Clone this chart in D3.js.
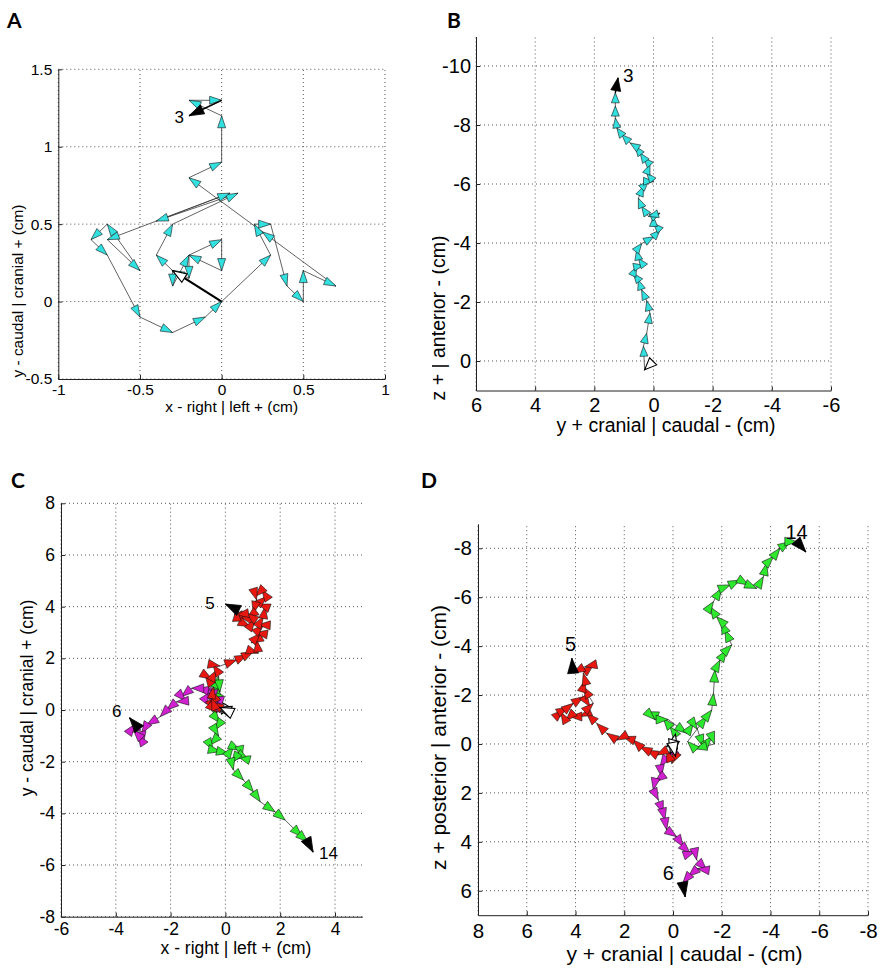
<!DOCTYPE html>
<html><head><meta charset="utf-8">
<script src="https://cdn.jsdelivr.net/npm/d3@7"></script>
<style>body{margin:0;background:#fff}svg{display:block}</style>
</head><body>
<svg id="c" width="886" height="977"></svg>
<script>
// ---------- DATA ----------
// Panel A: x (right|left) vs y (caudal|cranial), cm
const aX = [0,-0.3,-0.3,-0.2,0,0,-0.2,-0.2,-0.3,-0.4,-0.3,0.1,-0.4,0.05,-0.7,-0.5,-0.7,-0.8,-0.7,-0.5,-0.3,-0.1,0,0.3,0.2,0.3,0.4,0.5,0.5,0.7,0.25,-0.2,0,0,-0.2,0,-0.2];
const aY = [0,0.2,0.1,0.3,0.4,0.2,0.3,0.15,0.2,0.3,0.5,0.7,0.52,0.7,0.4,0.2,0.5,0.4,0.3,-0.1,-0.2,-0.1,0,0.3,0.5,0.5,0.1,0,0.2,0.1,0.45,0.8,0.9,1.2,1.3,1.3,1.2];
const aXTicks = [-1,-0.5,0,0.5,1];
const aYTicks = [-0.5,0,0.5,1,1.5];
const aEndLabel = {x:-0.26, y:1.19, text:"3"};

// Panel B: y (cranial|caudal) vs z (anterior), cm
const bX = [0,0.3,0.34,0.23,0.12,0.23,0.4,0.51,0.68,0.57,0.34,0.51,0.57,0.4,0.0,-0.22,0,0,-0.22,0.17,0.4,0.51,0.34,0.17,0,0.23,0.12,0.34,0.45,0.62,0.79,1.07,1.24,1.29,1.29,1.29,1.2];
const bY = [0,0.3,-0.5,-0.94,-1.62,-2.04,-2.41,-2.75,-2.97,-3.2,-3.25,-3.48,-3.76,-3.98,-4.21,-4.44,-4.67,-4.9,-5.01,-4.9,-5.24,-5.52,-5.92,-6.09,-6.09,-6.38,-6.66,-6.89,-7.05,-7.28,-7.39,-7.67,-7.9,-8.24,-8.64,-9.09,-9.6];
const bXTicks = [6,4,2,0,-2,-4,-6];
const bYTicks = [-10,-8,-6,-4,-2,0];
const bEndLabel = {x:0.85, y:-9.69, text:"3"};

// Panel C: x vs y, three capsules (5 red, 6 magenta, 14 green)
const cRedX = [0,-0.2,-0.5,-0.3,-0.6,-0.3,-0.5,-0.44,-0.74,-0.5,-0.32,-0.45,-0.2,0.41,0.78,1.02,1.2,1.14,0.95,1.27,1.1,1.39,1.2,1.39,1.45,1.2,1.5,1.33,1.1,1.14,1.02,0.78,0.54,0.66,0.9,1.08,0.78,0.41,0.4,0.0];
const cRedY = [0,0.1,0.3,0.5,0.2,-0.1,0.45,0.9,1.35,1.2,1.55,1.75,1.7,1.94,2.13,2.26,2.2,2.71,2.6,2.97,3.0,3.29,3.3,3.61,4.0,4.1,4.39,4.65,4.4,4.26,3.74,3.55,3.61,3.35,3.23,3.5,3.74,3.68,3.9,4.1];
const cMagX = [0,-0.3,-0.2,-0.5,-0.44,-0.68,-0.55,-0.74,-1.05,-1.23,-1.6,-1.45,-1.78,-2.14,-2.38,-2.87,-3.05,-2.99,-3.2,-3.36,-3.54,-3.3,-3.5];
const cMagY = [0,0.1,0.4,0.5,0.39,0.52,0.7,0.77,0.84,0.84,0.52,0.35,0.32,0,-0.26,-0.58,-0.9,-1.29,-0.95,-0.77,-0.9,-0.55,-0.3];
const cGrnX = [0,-0.3,-0.35,-0.25,-0.2,-0.4,-0.38,-0.2,-0.38,-0.25,-0.56,-0.45,-0.19,0.11,0.29,0.54,0.6,0.47,0.3,0.23,0.29,0.66,1.02,1.27,1.81,2.18,2.79,3.0,3.2];
const cGrnY = [0,0.4,1.0,1.3,0.7,0.2,-0.26,-0.5,-0.77,-1.0,-1.35,-1.55,-1.61,-1.68,-1.42,-1.55,-1.85,-1.81,-1.95,-2.06,-2.32,-2.71,-3.16,-3.55,-3.94,-4.26,-4.9,-5.1,-5.5];
const cXTicks = [-6,-4,-2,0,2,4];
const cYTicks = [-8,-6,-4,-2,0,2,4,6,8];
const cEndLabels = [{x:-0.56,y:4.13,text:"5"},{x:-3.97,y:-0.07,text:"6"},{x:3.76,y:-5.55,text:"14"}];

// Panel D: y (cranial|caudal) vs z (posterior|anterior)
const dRedX = [0,-0.1,0.05,0.26,0.67,1.08,1.35,1.63,2.04,2.31,2.72,3.13,3.54,3.82,4.23,4.4,4.6,4.5,4.3,4.09,3.68,3.41,3.27,3.68,3.6,3.68,3.27,3.61,4.1,4.15];
const dRedY = [0,0.5,0.8,0.25,0.45,0.25,0.11,-0.16,-0.3,-0.16,-0.44,-0.84,-1.25,-1.12,-1.12,-0.95,-1.3,-1.39,-1.5,-1.66,-1.93,-1.53,-1.66,-2.34,-2.6,-2.89,-3.23,-3.16,-2.9,-3.5];
const dMagX = [0,0.1,0.26,0.53,0.47,0.74,0.81,0.6,0.4,0.33,0.26,-0.15,-0.42,-0.7,-0.9,-0.97,-1.38,-1.0,-0.63,-0.4,-0.5];
const dMagY = [0,0.4,0.52,0.93,1.34,1.54,1.88,2.29,2.83,3.11,3.51,3.79,4.2,4.47,4.4,4.74,5.15,5.1,5.42,5.7,6.25];
const dGrnX = [0,-0.1,0.12,0.4,1.08,0.75,0.2,-0.56,-0.83,-1.0,-1.24,-1.59,-1.7,-0.9,-0.6,-1.38,-1.59,-1.66,-1.72,-1.93,-2.2,-2.41,-2.13,-1.99,-1.79,-1.52,-1.66,-1.99,-2.34,-2.75,-3.09,-3.43,-3.71,-3.84,-4.12,-4.39,-4.8,-5.08,-5.45];
const dGrnY = [0,-0.4,-0.71,-1.05,-1.32,-1.0,-1.0,-0.44,-0.84,-0.6,0.11,-0.3,0,0.2,-0.1,-1.12,-1.39,-2.07,-3.02,-3.43,-3.84,-4.05,-4.66,-5.0,-5.2,-5.61,-5.82,-6.36,-6.5,-6.7,-6.5,-6.36,-6.84,-7.38,-7.66,-8.0,-8.27,-8.27,-7.85];
const dXTicks = [8,6,4,2,0,-2,-4,-6,-8];
const dYTicks = [-8,-6,-4,-2,0,2,4,6];
const dEndLabels = [{x:4.2,y:-4.09,text:"5"},{x:-5.07,y:-8.68,text:"14"},{x:0.19,y:5.29,text:"6"}];

// ---------- DRAWING ----------
const FONT = "Liberation Sans, Arial, sans-serif";
const svg = d3.select("#c");
const COL = {cyan:"#33e0e0", red:"#e81810", mag:"#d020d0", grn:"#2ee82e"};

svg.append("clipPath").attr("id","clipB").append("rect").attr("x",432).attr("y",0).attr("width",454).attr("height",460);

function headPts(px,py,qx,qy,L,W){
  const dx=qx-px, dy=qy-py, len=Math.hypot(dx,dy)||1;
  const ux=dx/len, uy=dy/len, bx=qx-ux*L, by=qy-uy*L, nx=-uy, ny=ux;
  return [[qx,qy],[bx+nx*W/2,by+ny*W/2],[bx-nx*W/2,by-ny*W/2]].map(p=>p.join(",")).join(" ");
}

function panel(p){
  const x = d3.scaleLinear().domain(p.xDom).range(p.xRange);
  const y = d3.scaleLinear().domain(p.yDom).range(p.yRange);
  const g = svg.append("g");
  const [x0,x1] = p.xRange, [yb,yt] = p.yRange;
  const grid = g.append("g").attr("stroke","#444").attr("stroke-width",0.9).attr("stroke-dasharray","1,3");
  p.xTicks.forEach(t=>grid.append("line").attr("x1",x(t)).attr("x2",x(t)).attr("y1",yb).attr("y2",yt));
  p.yTicks.forEach(t=>grid.append("line").attr("y1",y(t)).attr("y2",y(t)).attr("x1",x0).attr("x2",x1));
  const ax = g.append("g").attr("transform",`translate(0,${yb})`)
    .call(d3.axisBottom(x).tickValues(p.xTicks).tickFormat(d=>String(d)).tickSizeInner(-4).tickSizeOuter(0).tickPadding(p.xPad));
  const ay = g.append("g").attr("transform",`translate(${x0},0)`)
    .call(d3.axisLeft(y).tickValues(p.yTicks).tickFormat(d=>String(d)).tickSizeInner(-4).tickSizeOuter(0).tickPadding(p.yPad));
  [ax,ay].forEach(a=>{
    a.selectAll("path,line").attr("stroke","#222").attr("stroke-width",1);
    a.selectAll("text").attr("font-family",FONT).attr("font-size",p.tickFs).attr("fill","#000");
  });
  p.series.forEach(s=>{
    const pts = s.xs.map((v,i)=>[x(v),y(s.ys[i])]);
    g.append("path").attr("d",d3.line()(pts)).attr("fill","none").attr("stroke","#3a3a3a").attr("stroke-width",0.8);
    s.pts = pts;
  });
  p.series.forEach(s=>{
    const pts = s.pts, n = pts.length;
    g.append("line").attr("x1",pts[0][0]).attr("y1",pts[0][1]).attr("x2",pts[1][0]).attr("y2",pts[1][1])
      .attr("stroke","#000").attr("stroke-width",p.startW);
    for(let i=2;i<n-1;i++){
      g.append("polygon").attr("points",headPts(pts[i-1][0],pts[i-1][1],pts[i][0],pts[i][1],p.L,p.W))
        .attr("fill",s.color).attr("stroke","#111").attr("stroke-width",0.6);
    }
    g.append("polygon").attr("points",headPts(pts[0][0],pts[0][1],pts[1][0],pts[1][1],p.L+2,p.W+2))
      .attr("fill","#fff").attr("stroke","#000").attr("stroke-width",1.1);
    g.append("line").attr("x1",pts[n-2][0]).attr("y1",pts[n-2][1]).attr("x2",pts[n-1][0]).attr("y2",pts[n-1][1])
      .attr("stroke","#000").attr("stroke-width",1.4);
    g.append("polygon").attr("points",headPts(pts[n-2][0],pts[n-2][1],pts[n-1][0],pts[n-1][1],p.L+3,p.W+2))
      .attr("fill","#000").attr("stroke","#000").attr("stroke-width",0.8);
  });
  p.labels.forEach(l=>g.append("text").attr("x",x(l.x)).attr("y",y(l.y)).attr("text-anchor","middle")
    .attr("dominant-baseline","central").attr("font-family",FONT).attr("font-size",p.numFs).text(l.text));
  g.append("text").attr("x",p.xl[0]).attr("y",p.xl[1]).attr("text-anchor","middle")
    .attr("font-family",FONT).attr("font-size",p.labFs).text(p.xLabel);
  const ylg = g.append("g");
  if(p.clip) ylg.attr("clip-path",`url(#${p.clip})`);
  ylg.append("text").attr("transform",`translate(${p.yl[0]},${p.yl[1]}) rotate(-90)`).attr("text-anchor","middle")
    .attr("font-family",FONT).attr("font-size",p.labFs).text(p.yLabel);
  svg.append("text").attr("x",p.letter[0]).attr("y",p.letter[1]).attr("font-family","Lato, 'Open Sans', sans-serif")
    .attr("font-weight","bold").attr("font-size",21).text(p.letter[2]);
}

panel({xDom:[-1,1], xRange:[58.3,385], yDom:[-0.5,1.5], yRange:[379,69.3],
  xTicks:aXTicks, yTicks:aYTicks, xPad:5.4, yPad:6, tickFs:15.5, labFs:15.4, numFs:17,
  L:12, W:8, startW:2.2,
  series:[{xs:aX, ys:aY, color:COL.cyan}], labels:[aEndLabel],
  xLabel:"x - right | left + (cm)", xl:[231.7,412],
  yLabel:"y - caudal | cranial + (cm)", yl:[23,291], letter:[7,28,"A"]});

panel({xDom:[6,-6], xRange:[476,831], yDom:[1,-11], yRange:[390.5,36.5],
  xTicks:bXTicks, yTicks:bYTicks, xPad:7, yPad:5, tickFs:20, labFs:19.5, numFs:19,
  L:10, W:8, startW:1.2,
  series:[{xs:bX, ys:bY, color:COL.cyan}], labels:[bEndLabel],
  xLabel:"y + cranial | caudal - (cm)", xl:[666,432],
  yLabel:"z + | anterior - (cm)", yl:[445,318], clip:"clipB", letter:[447,28,"B"]});

panel({xDom:[-6,5], xRange:[61,362.4], yDom:[-8,8], yRange:[916.7,503.3],
  xTicks:cXTicks, yTicks:cYTicks, xPad:5.6, yPad:6, tickFs:17.5, labFs:17.5, numFs:17,
  L:12, W:9, startW:1.2,
  series:[{xs:cGrnX, ys:cGrnY, color:COL.grn},{xs:cMagX, ys:cMagY, color:COL.mag},{xs:cRedX, ys:cRedY, color:COL.red}],
  labels:cEndLabels,
  xLabel:"x - right | left + (cm)", xl:[236,954],
  yLabel:"y - caudal | cranial + (cm)", yl:[33,698], letter:[11,488,"C"]});

panel({xDom:[8,-8], xRange:[478,868], yDom:[7,-9], yRange:[915.2,523.8],
  xTicks:dXTicks, yTicks:dYTicks, xPad:8.4, yPad:6, tickFs:20.5, labFs:21, numFs:20,
  L:12, W:9, startW:1.2,
  series:[{xs:dGrnX, ys:dGrnY, color:COL.grn},{xs:dMagX, ys:dMagY, color:COL.mag},{xs:dRedX, ys:dRedY, color:COL.red}],
  labels:dEndLabels,
  xLabel:"y + cranial | caudal - (cm)", xl:[684.5,961],
  yLabel:"z + posterior | anterior - (cm)", yl:[446,737.5], letter:[421,488,"D"]});
</script>
</body></html>
